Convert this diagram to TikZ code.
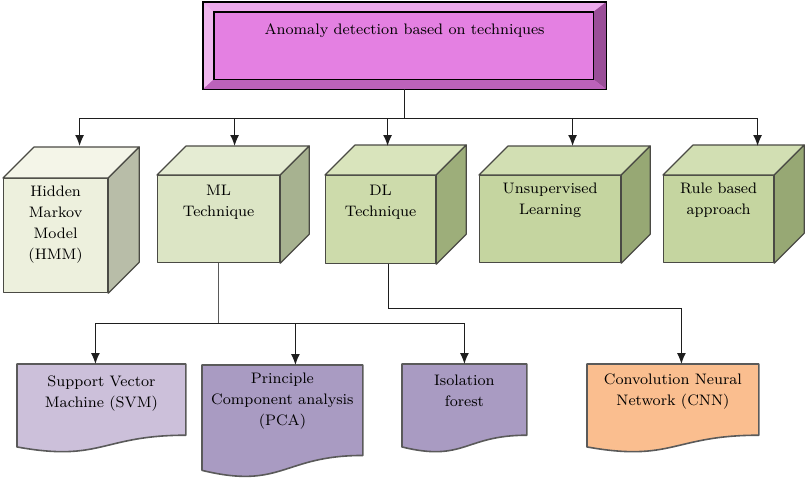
\documentclass[tikz,border=0pt]{standalone}
\usepackage{tikz}
\usetikzlibrary{arrows.meta,calc,positioning}
\definecolor{wire}{HTML}{1E1E1E}
\definecolor{cubeline}{HTML}{4A4A44}
\definecolor{docline}{HTML}{5A5A5A}
\definecolor{ttlfront}{HTML}{E480E2}
\definecolor{ttltop}{HTML}{EDAAEC}
\definecolor{ttlleft}{HTML}{F0B6EE}
\definecolor{ttlright}{HTML}{9A4E98}
\definecolor{ttlbottom}{HTML}{BC62BA}
\definecolor{hmmfront}{HTML}{EDF0DD}
\definecolor{hmmtop}{HTML}{F4F5E8}
\definecolor{hmmside}{HTML}{B8BDA8}
\definecolor{mlfront}{HTML}{DCE5C5}
\definecolor{mltop}{HTML}{E5ECD3}
\definecolor{mlside}{HTML}{A7B290}
\definecolor{dlfront}{HTML}{CDDBAB}
\definecolor{dltop}{HTML}{D9E4BC}
\definecolor{dlside}{HTML}{9DAE7A}
\definecolor{unfront}{HTML}{C5D5A0}
\definecolor{untop}{HTML}{D2DFB3}
\definecolor{unside}{HTML}{97A874}
\definecolor{svmfill}{HTML}{CCC0DA}
\definecolor{pcafill}{HTML}{A99BC2}
\definecolor{cnnfill}{HTML}{FABE8F}
\tikzset{
  txt/.style={align=center,inner sep=1pt,font=\fontsize{7.6}{10.5}\selectfont},
  face/.style={draw=cubeline,line width=.6pt,line join=round},
  cubefront/.style={face,inner sep=0pt,anchor=north west},
  docbox/.style={inner sep=0pt,anchor=north west},
  doc/.style={draw=docline,line width=.8pt,line join=round},
  titlebox/.style={draw=black,fill=ttlfront,line width=.6pt,inner sep=0pt,anchor=north west},
  line/.style={draw=wire,line width=.6pt},
  edge/.style={line,-{Latex[length=5.5pt,width=4.5pt]}}
}
% top and side face of a cube: node, depth, top colour, side colour
\newcommand{\cubefaces}[4]{%
  \draw[face,fill=#3] (#1.north west) -- ++(#2,#2) -- ($(#1.north east)+(#2,#2)$) -- (#1.north east) -- cycle;
  \draw[face,fill=#4] (#1.north east) -- ++(#2,#2) -- ($(#1.south east)+(#2,#2)$) -- (#1.south east) -- cycle;
}
% document shape with wavy bottom over a node
\newcommand{\docpath}[2]{%
  \draw[doc,fill=#2] (#1.north west) -- (#1.north east) -- ($(#1.north east)!.802!(#1.south east)$)
    .. controls ($(#1.north)!.802!(#1.south)$) and ($(#1.north)!1.1075!(#1.south)$) .. ($(#1.north west)!.934!(#1.south west)$) -- cycle;
}
\begin{document}
\begin{tikzpicture}[x=0.5pt,y=-0.5pt]
\useasboundingbox (0,0) rectangle (805,483);
% root box with bevel
\node[titlebox,minimum width=201pt,minimum height=43pt] (title) at (203,2) {};
\coordinate (tnw) at ($(title.north west)+(5.5pt,-5pt)$);
\coordinate (tne) at ($(title.north east)+(-6.5pt,-5pt)$);
\coordinate (tse) at ($(title.south east)+(-6.5pt,5pt)$);
\coordinate (tsw) at ($(title.south west)+(5.5pt,5pt)$);
\fill[ttltop] (title.north west) -- (title.north east) -- (tne) -- (tnw) -- cycle;
\fill[ttlleft] (title.north west) -- (tnw) -- (tsw) -- (title.south west) -- cycle;
\fill[ttlright] (title.north east) -- (title.south east) -- (tse) -- (tne) -- cycle;
\fill[ttlbottom] (title.south west) -- (tsw) -- (tse) -- (title.south east) -- cycle;
\draw[line width=.6pt] (title.north west) rectangle (title.south east);
\draw[line width=.6pt] (tnw) rectangle (tse);
\node[txt,below=9.5pt of title.north] {Anomaly detection based on techniques};

% technique cubes
\node[cubefront,fill=hmmfront,minimum width=52pt,minimum height=57pt] (hmm) at (3,178) {};
\cubefaces{hmm}{15.5pt}{hmmtop}{hmmside}
\node[txt,below=3pt of hmm.north] {Hidden\\Markov\\Model\\(HMM)};

\node[cubefront,fill=mlfront,minimum width=61pt,minimum height=43.5pt] (ml) at (157,175) {};
\cubefaces{ml}{14.5pt}{mltop}{mlside}
\node[txt,below=4pt of ml.north] {ML\\Technique};

\node[cubefront,fill=dlfront,minimum width=55pt,minimum height=44pt] (dl) at (325,175) {};
\cubefaces{dl}{15pt}{dltop}{dlside}
\node[txt,below=4pt of dl.north] {DL\\Technique};

\node[cubefront,fill=unfront,minimum width=70.5pt,minimum height=43.5pt] (unsup) at (479,175) {};
\cubefaces{unsup}{14.5pt}{untop}{unside}
\node[txt,below=3pt of unsup.north] {Unsupervised\\Learning};

\node[cubefront,fill=unfront,minimum width=55pt,minimum height=43.5pt] (rule) at (663,175) {};
\cubefaces{rule}{15pt}{untop}{unside}
\node[txt,below=3pt of rule.north] {Rule based\\approach};

% method documents
\node[docbox,minimum width=84pt,minimum height=44pt] (svm) at (17,364) {};
\docpath{svm}{svmfill}
\node[txt,below=4.5pt of svm.north] {Support Vector\\Machine (SVM)};

\node[docbox,minimum width=80pt,minimum height=56pt] (pca) at (202,365) {};
\docpath{pca}{pcafill}
\node[txt,below=3pt of pca.north] {Principle\\Component analysis\\(PCA)};

\node[docbox,minimum width=62pt,minimum height=44pt] (iso) at (402,364) {};
\docpath{iso}{pcafill}
\node[txt,below=4.5pt of iso.north] {Isolation\\forest};

\node[docbox,minimum width=85.5pt,minimum height=44pt] (cnn) at (587,364) {};
\docpath{cnn}{cnnfill}
\node[txt,below=3.5pt of cnn.north] {Convolution Neural\\Network (CNN)};

% root to cubes
\draw[line] (title.south) -- ++(0,-14.5pt) coordinate (bus);
\draw[edge] (bus) -| ([shift={(12pt,16pt)}]hmm.north);
\draw[edge] (bus) -| ([shift={(8pt,14.5pt)}]ml.north);
\draw[edge] (bus) -| ([shift={(3.5pt,14.5pt)}]dl.north);
\draw[edge] (bus) -| ([shift={(11.25pt,14.5pt)}]unsup.north);
\draw[edge] (bus) -| ([shift={(19.5pt,14.5pt)}]rule.north);
% ML and DL to their methods
\draw[line,draw=docline] (ml.south) -- ++(0,-30pt) coordinate (mlbus);
\draw[edge] (mlbus) -| ([xshift=-3pt]svm.north);
\draw[edge] (mlbus) -| ([xshift=6.5pt]pca.north);
\draw[edge] (mlbus) -| (iso.north);
\draw[edge] ([xshift=4pt]dl.south) -- ++(0,-22pt) -| ([xshift=4.25pt]cnn.north);
\end{tikzpicture}
\end{document}
